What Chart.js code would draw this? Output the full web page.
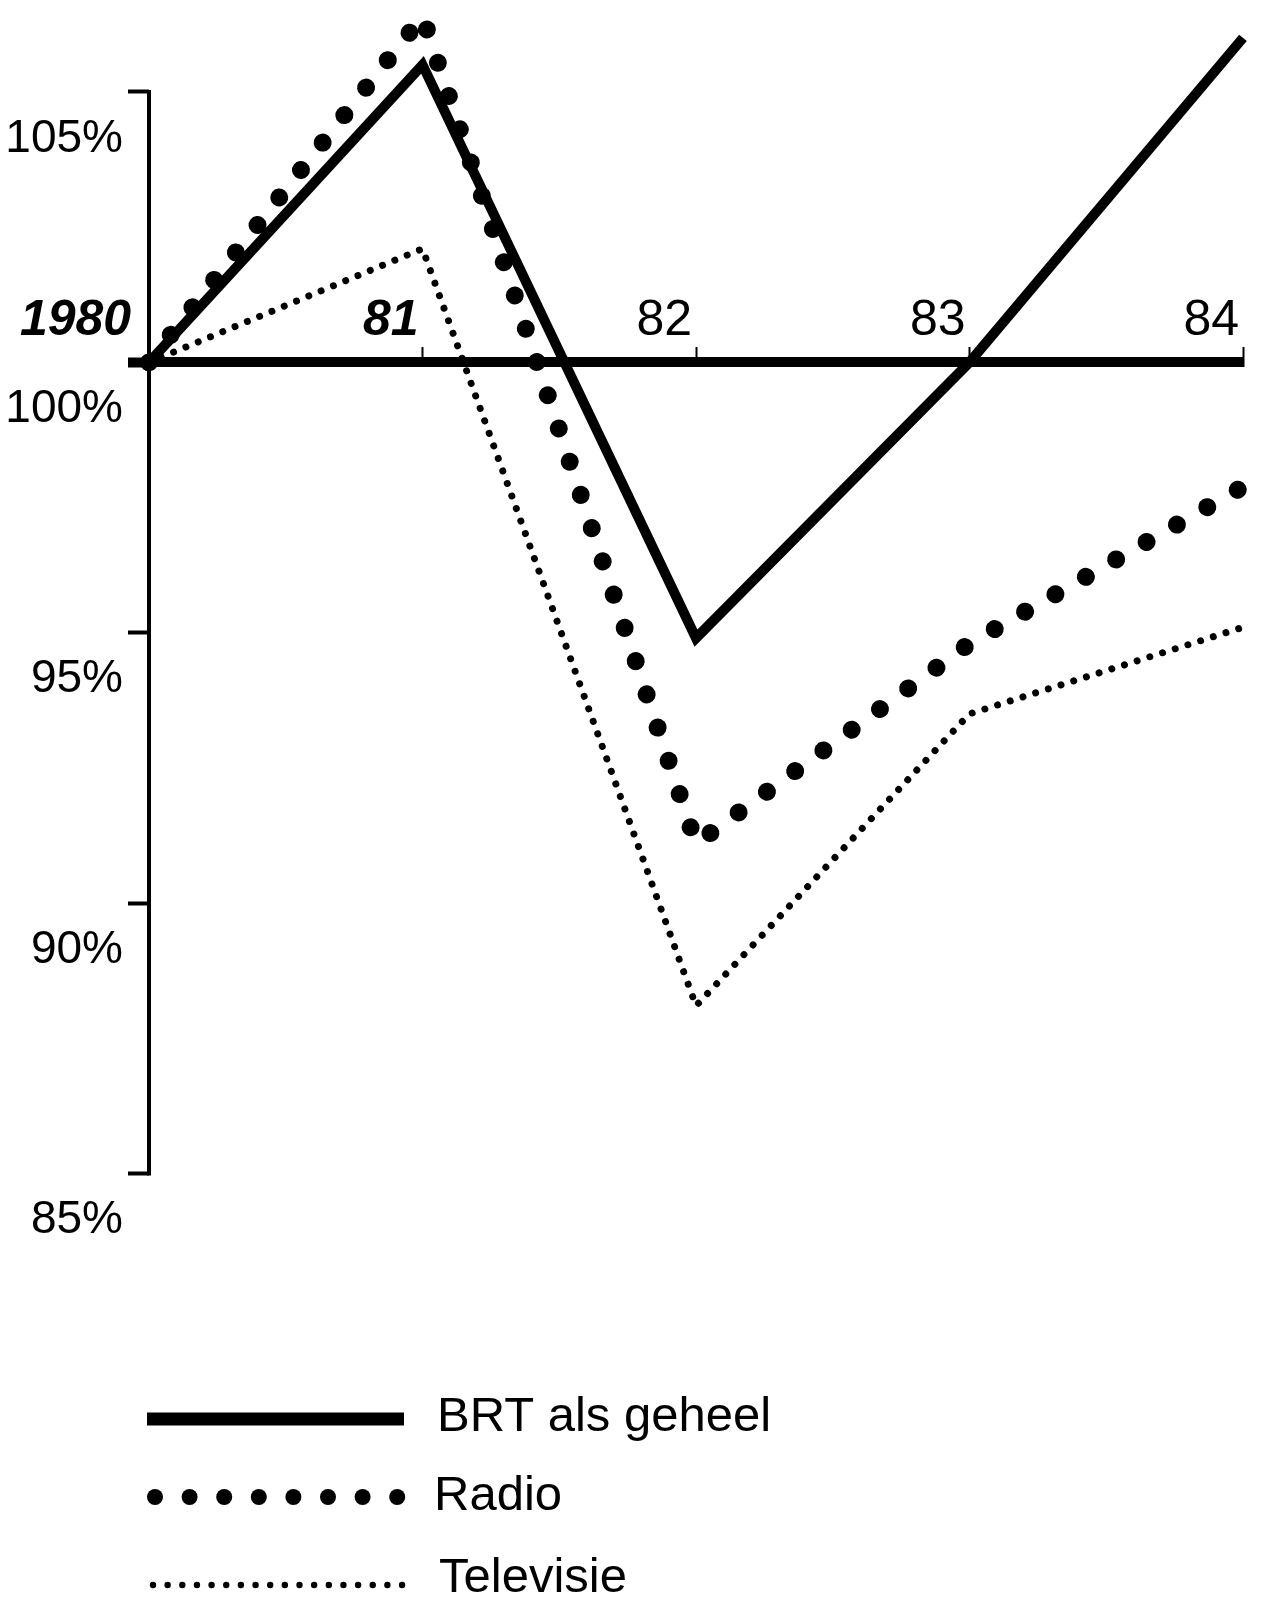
<!DOCTYPE html>
<html>
<head>
<meta charset="utf-8">
<title>BRT 1980-84</title>
<script src="https://cdn.jsdelivr.net/npm/chart.js@4.4.0/dist/chart.umd.min.js"></script>
<style>
  html, body { margin: 0; padding: 0; background: #fff; }
  canvas { display: block; }
</style>
</head>
<body>
<canvas id="myChart" width="1261" height="1597"></canvas>
<script>
// values (index, 1980 = 100%)
const years = ['1980', '81', '82', '83', '84'];
const brt = [100, 105.5, 94.9, 100, 106.0];
const radio = [100, 106.4, 91.1, 94.8, 97.7];
const televisie = [100, 102.1, 88.1, 93.5, 95.1];
const yTicks = [85, 90, 95, 100, 105];
const seriesNames = ['BRT als geheel', 'Radio', 'Televisie'];

const FONT = "'Liberation Sans', Arial, Helvetica, sans-serif";

// the vertical axis only runs from 85% to 105%
const axisLine = {
  id: 'axisLine',
  beforeDatasetsDraw(chart) {
    const ctx = chart.ctx;
    const y = chart.scales.y;
    const x = chart.chartArea.left;
    ctx.save();
    ctx.strokeStyle = '#000';
    ctx.lineWidth = 4;
    ctx.beginPath();
    ctx.moveTo(x, y.getPixelForValue(yTicks[yTicks.length - 1]) - 2);
    ctx.lineTo(x, y.getPixelForValue(yTicks[0]) + 2);
    ctx.stroke();
    ctx.restore();
  }
};

// legend under the chart: line sample + name, one row per series
const legendRows = {
  id: 'legendRows',
  afterDraw(chart) {
    const ctx = chart.ctx;
    const ds = chart.data.datasets;
    ctx.save();
    ctx.fillStyle = '#000';
    ctx.strokeStyle = '#000';

    ctx.lineWidth = 13;
    ctx.beginPath();
    ctx.moveTo(147, 1419);
    ctx.lineTo(404, 1419);
    ctx.stroke();

    for (let i = 0; i < 8; i++) {
      ctx.beginPath();
      ctx.arc(155 + i * 34.6, 1497, 8, 0, Math.PI * 2);
      ctx.fill();
    }
    for (let i = 0; i < 18; i++) {
      ctx.beginPath();
      ctx.arc(153 + i * 14.65, 1585, 3.2, 0, Math.PI * 2);
      ctx.fill();
    }

    ctx.font = '49px ' + FONT;
    ctx.textBaseline = 'alphabetic';
    ctx.textAlign = 'left';
    ctx.fillText(ds[0].label, 437, 1431);
    ctx.fillText(ds[1].label, 434, 1510);
    ctx.fillText(ds[2].label, 439, 1592);
    ctx.restore();
  }
};

new Chart(document.getElementById('myChart'), {
  type: 'line',
  data: {
    labels: years,
    datasets: [
      {
        label: seriesNames[0],
        data: brt,
        borderColor: '#000',
        borderWidth: 10,
        borderJoinStyle: 'miter',
        pointRadius: 0,
        clip: false
      },
      {
        label: seriesNames[1],
        data: radio,
        borderColor: '#000',
        borderWidth: 18,
        borderDash: [0.01, 35],
        borderCapStyle: 'round',
        pointRadius: 0,
        clip: false
      },
      {
        label: seriesNames[2],
        data: televisie,
        borderColor: '#000',
        borderWidth: 7,
        borderDash: [0.01, 13.3],
        borderCapStyle: 'round',
        pointRadius: 0,
        clip: false
      }
    ]
  },
  options: {
    responsive: false,
    animation: false,
    devicePixelRatio: 1,
    layout: {
      autoPadding: false,
      padding: { left: 0, right: 18, top: 0, bottom: 423.5 }
    },
    plugins: {
      legend: { display: false },
      tooltip: { enabled: false }
    },
    scales: {
      x: {
        position: { y: 100 },
        offset: false,
        grid: {
          display: true,
          drawOnChartArea: false,
          drawTicks: true,
          tickLength: -20,
          tickWidth: 2,
          tickColor: '#000'
        },
        border: { display: true, width: 10, color: '#000' },
        ticks: {
          autoSkip: false,
          maxRotation: 0,
          align: 'end',
          labelOffset: -4,
          padding: -51,
          color: '#000',
          font: (c) => ({
            family: FONT,
            size: 50,
            weight: c.index < 2 ? 'bold' : 'normal',
            style: c.index < 2 ? 'italic' : 'normal'
          }),
          callback: (v, i) => (i === 0 ? years[i] + ' ' : years[i])
        }
      },
      y: {
        min: 85,
        max: 106.7,
        afterFit: (s) => {
          s.width = 149;
          // labels sit below their ticks, no room needed above the plot
          s.paddingTop = 0;
          s.paddingBottom = 0;
        },
        afterBuildTicks: (s) => { s.ticks = yTicks.map(v => ({ value: v })); },
        grid: {
          display: true,
          drawOnChartArea: false,
          drawTicks: true,
          tickLength: 21,
          tickWidth: (c) => (c.tick && c.tick.value === 100 ? 10 : 4),
          tickColor: '#000'
        },
        border: { display: false },
        ticks: {
          color: '#000',
          padding: 5,
          labelOffset: 47,
          font: { family: FONT, size: 46 },
          callback: (v) => v + '%'
        }
      }
    }
  },
  plugins: [axisLine, legendRows]
});
</script>
</body>
</html>
